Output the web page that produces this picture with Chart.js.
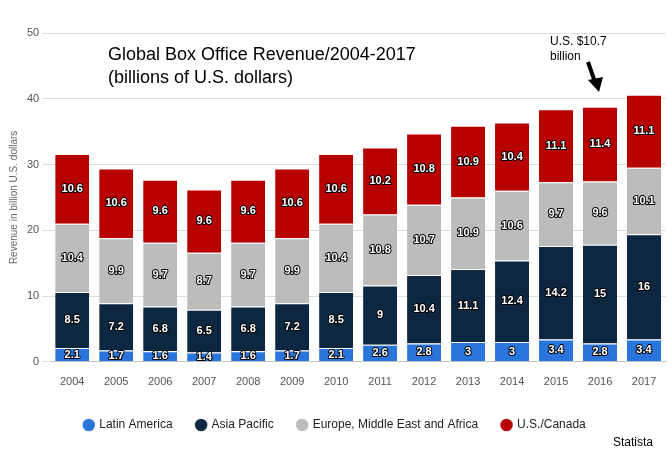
<!DOCTYPE html>
<html><head><meta charset="utf-8">
<script src="https://cdn.jsdelivr.net/npm/chart.js@4"></script>
<style>body{margin:0;background:#fff}#wrap{width:672px;height:456px;position:relative}</style>
</head><body><div id="wrap"><canvas id="c"></canvas></div>
<script>
const years = ['2004','2005','2006','2007','2008','2009','2010','2011','2012','2013','2014','2015','2016','2017'];
const latinAmerica = [2.1,1.7,1.6,1.4,1.6,1.7,2.1,2.6,2.8,3,3,3.4,2.8,3.4];
const asiaPacific = [8.5,7.2,6.8,6.5,6.8,7.2,8.5,9,10.4,11.1,12.4,14.2,15,16];
const emea = [10.4,9.9,9.7,8.7,9.7,9.9,10.4,10.8,10.7,10.9,10.6,9.7,9.6,10.1];
const usCanada = [10.6,10.6,9.6,9.6,9.6,10.6,10.6,10.2,10.8,10.9,10.4,11.1,11.4,11.1];

const barLabels = {
    id: 'barLabels',
    afterDatasetsDraw(chart) {
        const ctx = chart.ctx;
        ctx.save();
        ctx.font = 'bold 11px Arial, "Liberation Sans"';
        ctx.textAlign = 'center';
        ctx.textBaseline = 'middle';
        ctx.lineJoin = 'round';
        chart.data.datasets.forEach((ds, i) => {
            chart.getDatasetMeta(i).data.forEach((bar, j) => {
                const y = (bar.y + bar.base) / 2;
                ctx.strokeStyle = '#000';
                ctx.lineWidth = 2;
                ctx.strokeText(ds.data[j], bar.x, y);
                ctx.fillStyle = '#fff';
                ctx.fillText(ds.data[j], bar.x, y);
            });
        });
        // title and annotation
        ctx.fillStyle = '#000';
        ctx.textAlign = 'left';
        ctx.font = '18px Arial, "Liberation Sans"';
        ctx.fillText('Global Box Office Revenue/2004-2017', 108, 55);
        ctx.fillText('(billions of U.S. dollars)', 108, 78);
        ctx.font = '12px Arial, "Liberation Sans"';
        ctx.fillText('U.S. $10.7', 550, 42);
        ctx.fillText('billion', 550, 57);
        ctx.strokeStyle = '#000';
        ctx.lineWidth = 4;
        ctx.beginPath(); ctx.moveTo(588, 62); ctx.lineTo(595, 82); ctx.stroke();
        ctx.beginPath(); ctx.moveTo(588, 80); ctx.lineTo(599, 92); ctx.lineTo(603, 77); ctx.closePath();
        ctx.fillStyle = '#000'; ctx.fill();
        ctx.font = '12px Arial, "Liberation Sans"';
        ctx.fillText('Statista', 613, 443);
        ctx.restore();
    }
};

const mk = (label, data, color) => ({label, data, backgroundColor: color, borderColor: '#fff', borderWidth: {top: 1}, borderSkipped: false, barPercentage: 0.86, categoryPercentage: 0.9});

new Chart(document.getElementById('c'), {
    type: 'bar',
    data: {
        labels: years,
        datasets: [
            mk('Latin America', latinAmerica, '#2a75db'),
            mk('Asia Pacific', asiaPacific, '#0e2741'),
            mk('Europe, Middle East and Africa', emea, '#bcbcbc'),
            mk('U.S./Canada', usCanada, '#b70000')
        ]
    },
    options: {
        responsive: true,
        maintainAspectRatio: false,
        animation: false,
        layout: {padding: {top: 33, right: 6, left: 4, bottom: 15}},
        plugins: {
            legend: {
                position: 'bottom',
                labels: {usePointStyle: true, pointStyle: 'circle', boxWidth: 9, boxHeight: 9, padding: 24, color: '#222', font: {size: 12}}
            },
            tooltip: {enabled: false}
        },
        scales: {
            x: {stacked: true, grid: {display: false}, ticks: {color: '#555', font: {size: 11}, padding: 6}},
            y: {stacked: true, min: 0, max: 50, ticks: {stepSize: 10, color: '#555', font: {size: 11}},
                grid: {color: '#ddd'}, border: {display: false},
                title: {display: true, text: 'Revenue in billion U.S. dollars', color: '#666', font: {size: 10}}}
        }
    },
    plugins: [barLabels]
});
</script></body></html>
